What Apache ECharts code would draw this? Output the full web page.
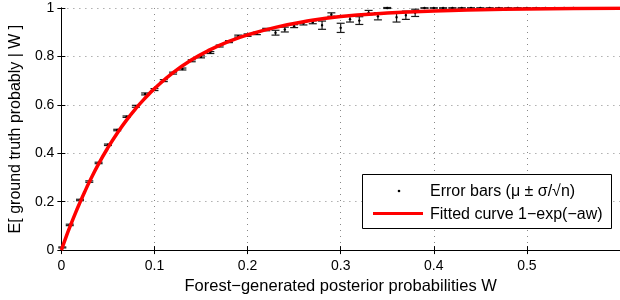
<!DOCTYPE html>
<html>
<head>
<meta charset="utf-8">
<script src="https://cdn.jsdelivr.net/npm/echarts@6/dist/echarts.min.js"></script>
<style>
  html, body { margin: 0; padding: 0; background: #fff; }
  #chart { width: 620px; height: 300px; }
</style>
</head>
<body>
<div id="chart"></div>
<script>
  // error bar points: bin position, mean, half height (sigma/sqrt(n))
  var errX = [0.001, 0.009, 0.02, 0.03, 0.04, 0.05, 0.06, 0.07, 0.08, 0.09,
    0.10, 0.11, 0.12, 0.13, 0.14, 0.15, 0.16, 0.17, 0.18, 0.19,
    0.20, 0.21, 0.22, 0.23, 0.24, 0.25, 0.26, 0.27, 0.28, 0.29,
    0.30, 0.31, 0.32, 0.33, 0.34, 0.35, 0.36, 0.37, 0.38, 0.39,
    0.40, 0.41, 0.42, 0.43, 0.44, 0.45, 0.46, 0.47, 0.48, 0.49,
    0.50, 0.51, 0.52, 0.53, 0.54, 0.55]
  var errMean = [0.011, 0.104, 0.207, 0.283, 0.360, 0.435, 0.496, 0.551, 0.594, 0.645,
    0.663, 0.700, 0.731, 0.748, 0.782, 0.798, 0.816, 0.843, 0.861, 0.884,
    0.888, 0.895, 0.911, 0.898, 0.911, 0.925, 0.936, 0.941, 0.929, 0.973,
    0.918, 0.954, 0.948, 0.981, 0.966, 1.0, 0.962, 0.970, 0.980, 1.0,
    1.0, 1.0, 1.0, 1.0, 1.0, 1.0, 1.0, 1.0, 1.0, 1.0,
    1.0, 1.0, 1.0, 1.0, 1.0, 1.0]
  var errHalf = [0.002, 0.003, 0.003, 0.003, 0.003, 0.003, 0.003, 0.003, 0.004, 0.004,
    0.004, 0.004, 0.004, 0.004, 0.004, 0.004, 0.004, 0.004, 0.004, 0.004,
    0.005, 0.005, 0.005, 0.010, 0.010, 0.006, 0.006, 0.006, 0.017, 0.007,
    0.019, 0.012, 0.016, 0.009, 0.015, 0.002, 0.020, 0.017, 0.015, 0,
    0, 0, 0, 0, 0, 0, 0, 0, 0, 0,
    0, 0, 0, 0, 0, 0]

  // fitted curve 1-exp(-aw)
  var curveX = [0, 0.005, 0.01, 0.015, 0.02, 0.025, 0.03, 0.04, 0.05, 0.06, 0.07, 0.08, 0.09,
    0.10, 0.12, 0.14, 0.16, 0.18, 0.20, 0.23, 0.26, 0.30, 0.35, 0.40, 0.45, 0.50, 0.55, 0.60]
  var curveY = [0, 0.054, 0.104, 0.152, 0.197, 0.240, 0.281, 0.356, 0.423, 0.483, 0.537, 0.585, 0.628,
    0.667, 0.733, 0.786, 0.828, 0.862, 0.889, 0.920, 0.943, 0.965, 0.979, 0.988, 0.993, 0.996, 0.998, 0.999]

  var xTicks = ['0', '0.1', '0.2', '0.3', '0.4', '0.5']
  var yTicks = ['0', '0.2', '0.4', '0.6', '0.8', '1']

  var font = 'Liberation Sans, Arial, Helvetica, sans-serif'

  function renderErrorBar(params, api) {
    var x = api.value(0), y = api.value(1), e = api.value(2)
    var top = api.coord([x, y + e])
    var bot = api.coord([x, y - e])
    var mid = api.coord([x, y])
    var hw = 4
    var st = { stroke: '#1a1a1a', lineWidth: 1.2 }
    return {
      type: 'group',
      children: [
        { type: 'line', shape: { x1: top[0], y1: top[1], x2: bot[0], y2: bot[1] }, style: st },
        { type: 'line', shape: { x1: top[0] - hw, y1: top[1], x2: top[0] + hw, y2: top[1] }, style: st },
        { type: 'line', shape: { x1: bot[0] - hw, y1: bot[1], x2: bot[0] + hw, y2: bot[1] }, style: st },
        { type: 'circle', shape: { cx: mid[0], cy: mid[1], r: 1.2 }, style: { fill: '#000' } }
      ]
    }
  }

  var gridLine = { show: true, lineStyle: { color: '#888', type: [1, 5], width: 1 } }

  var chart = echarts.init(document.getElementById('chart'), null, { renderer: 'canvas' })
  chart.setOption({
    animation: false,
    backgroundColor: '#fff',
    textStyle: { fontFamily: font },
    grid: { left: 61, right: -1, top: 8, bottom: 46.5 },
    xAxis: [
      {
        type: 'value', min: 0, max: 0.6, interval: 0.1,
        name: 'Forest\u2212generated posterior probabilities W',
        nameLocation: 'middle', nameGap: 26,
        nameTextStyle: { color: '#000', fontSize: 16.5, fontFamily: font },
        axisLine: { lineStyle: { color: '#000', width: 1 } },
        axisTick: { inside: true, length: 4, lineStyle: { color: '#000' } },
        axisLabel: {
          color: '#000', fontSize: 14, margin: 9, showMaxLabel: false,
          formatter: function (v) { return xTicks[Math.round(v * 10)] || '' }
        },
        splitLine: gridLine
      },
      {
        type: 'value', position: 'top', min: 0, max: 0.6, interval: 0.1,
        axisLine: { lineStyle: { color: '#000', width: 1 } },
        axisTick: { inside: true, length: 4, lineStyle: { color: '#000' } },
        axisLabel: { show: false },
        splitLine: { show: false }
      }
    ],
    yAxis: [
      {
        type: 'value', min: 0, max: 1, interval: 0.2,
        name: 'E[ ground truth probably | W ]',
        nameLocation: 'middle', nameGap: 27,
        nameTextStyle: { color: '#000', fontSize: 16, fontFamily: font },
        axisLine: { show: true, lineStyle: { color: '#000', width: 1 } },
        axisTick: { show: true, inside: true, length: 4, lineStyle: { color: '#000' } },
        axisLabel: {
          color: '#000', fontSize: 14, margin: 7,
          formatter: function (v) { return yTicks[Math.round(v * 5)] }
        },
        splitLine: gridLine
      },
      {
        type: 'value', position: 'right', min: 0, max: 1, interval: 0.2,
        axisLine: { show: true, lineStyle: { color: '#000', width: 1 } },
        axisTick: { show: true, inside: true, length: 4, lineStyle: { color: '#000' } },
        axisLabel: { show: false },
        splitLine: { show: false }
      }
    ],
    series: [
      {
        name: 'Error bars',
        type: 'custom',
        renderItem: renderErrorBar,
        encode: { x: 0, y: 1 },
        data: errX.map(function (x, i) { return [x, errMean[i], errHalf[i]] }),
        z: 3
      },
      {
        name: 'Fitted curve',
        type: 'line',
        smooth: true,
        showSymbol: false,
        data: curveX.map(function (x, i) { return [x, curveY[i]] }),
        lineStyle: { color: '#ff0000', width: 3.5 },
        z: 4
      }
    ],
    // legend box drawn by hand, like the matlab one
    graphic: [
      { type: 'rect', z: 10, shape: { x: 362.5, y: 174.5, width: 249, height: 54 },
        style: { fill: '#fff', stroke: '#000', lineWidth: 1 } },
      { type: 'circle', z: 11, shape: { cx: 399, cy: 191, r: 1.3 }, style: { fill: '#000' } },
      { type: 'text', z: 11, x: 430, y: 192,
        style: { text: 'Error bars (\u03bc \u00b1 \u03c3/\u221an)', fill: '#000', font: '16px ' + font, verticalAlign: 'middle' } },
      { type: 'line', z: 11, shape: { x1: 373, y1: 213.5, x2: 423, y2: 213.5 },
        style: { stroke: '#ff0000', lineWidth: 3 } },
      { type: 'text', z: 11, x: 430, y: 215,
        style: { text: 'Fitted curve 1\u2212exp(\u2212aw)', fill: '#000', font: '16px ' + font, verticalAlign: 'middle' } }
    ]
  })
</script>
</body>
</html>
